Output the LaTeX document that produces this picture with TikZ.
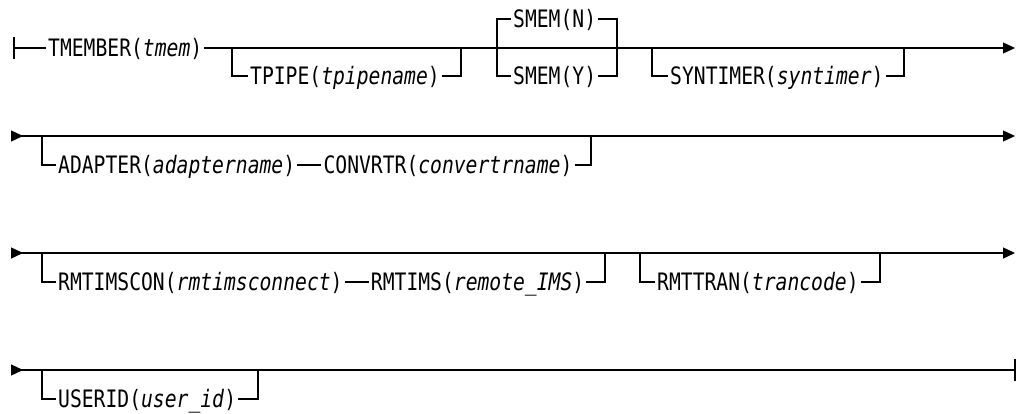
\documentclass[tikz,border=0pt]{standalone}
\usepackage{fontspec}
\setmonofont{DejaVu Sans Mono}[FakeStretch=0.82]
\usetikzlibrary{arrows.meta,positioning}

\begin{document}
\begin{tikzpicture}[
    x=1pt, y=-1pt,
    kw/.style={anchor=west, inner xsep=2pt, inner ysep=0pt,
               text height=17.4pt, text depth=0pt,
               font=\ttfamily\fontsize{24}{26}\selectfont},
    rail/.style={line width=1.3pt},
    rowline/.style={rail, {Triangle[reversed, length=12pt, width=11pt]}-{Triangle[length=12pt, width=11pt]}},
    lastline/.style={rail, {Triangle[reversed, length=12pt, width=11pt]}-},
    node distance=24pt
]
\useasboundingbox (0,0) rectangle (1017,414);

% ================= ROW 1 =================
\coordinate (Start1) at (14, 48);
\coordinate (End1) at (1015, 48);
\node[kw] (Tmember) at (46, 48) {TMEMBER(\textit{tmem})};

% optional TPIPE
\coordinate (TpL) at (232, 48);
\coordinate (TpR) at (461, 48);
\node[kw] (Tpipe) at (248, 76) {TPIPE(\textit{tpipename})};

% SMEM choice
\coordinate (SmL) at (497, 48);
\coordinate (SmR) at (617, 48);
\node[kw] (SmemN) at (511, 19) {SMEM(N)};
\node[kw] (SmemY) at (511, 76) {SMEM(Y)};

% optional SYNTIMER
\coordinate (SyL) at (652, 48);
\coordinate (SyR) at (904, 48);
\node[kw] (Syntimer) at (668, 76) {SYNTIMER(\textit{syntimer})};

\draw[rail] ([yshift=-11pt]Start1) -- ([yshift=11pt]Start1);
\draw[rail] (Start1) -- (Tmember);
\draw[rail, -{Triangle[length=12pt, width=11pt]}] (Tmember) -- (End1);
\draw[rail] (TpL) |- (Tpipe.west);
\draw[rail] (Tpipe.east) -| (TpR);
\draw[rail] (SmemN.west) -- (SmemN.west -| SmL) -- (SmemY.west -| SmL) -- (SmemY.west);
\draw[rail] (SmemN.east) -- (SmemN.east -| SmR) -- (SmemY.east -| SmR) -- (SmemY.east);
\draw[rail] (SyL) |- (Syntimer.west);
\draw[rail] (Syntimer.east) -| (SyR);

% ================= ROW 2 =================
\coordinate (Start2) at (11, 136);
\coordinate (End2) at (1015, 136);
\coordinate (AdL) at (42, 136);
\coordinate (AdR) at (591, 136);
\node[kw] (Adapter) at (56, 165) {ADAPTER(\textit{adaptername})};
\node[kw, right=of Adapter] (Convrtr) {CONVRTR(\textit{convertrname})};

\draw[rowline] (Start2) -- (End2);
\draw[rail] (AdL) |- (Adapter.west);
\draw[rail] (Adapter) -- (Convrtr);
\draw[rail] (Convrtr.east) -| (AdR);

% ================= ROW 3 =================
\coordinate (Start3) at (11, 253);
\coordinate (End3) at (1015, 253);
\coordinate (RcL) at (42, 253);
\coordinate (RcR) at (605, 253);
\node[kw] (Rmtimscon) at (56, 282) {RMTIMSCON(\textit{rmtimsconnect})};
\node[kw, right=of Rmtimscon] (Rmtims) {RMTIMS(\textit{remote\_IMS})};
\coordinate (RtL) at (640, 253);
\coordinate (RtR) at (880, 253);
\node[kw] (Rmttran) at (655, 282) {RMTTRAN(\textit{trancode})};

\draw[rowline] (Start3) -- (End3);
\draw[rail] (RcL) |- (Rmtimscon.west);
\draw[rail] (Rmtimscon) -- (Rmtims);
\draw[rail] (Rmtims.east) -| (RcR);
\draw[rail] (RtL) |- (Rmttran.west);
\draw[rail] (Rmttran.east) -| (RtR);

% ================= ROW 4 =================
\coordinate (Start4) at (11, 370);
\coordinate (End4) at (1015, 370);
\coordinate (UsL) at (42, 370);
\coordinate (UsR) at (258, 370);
\node[kw] (Userid) at (56, 399) {USERID(\textit{user\_id})};

\draw[lastline] (Start4) -- (End4);
\draw[rail] ([yshift=-11pt]End4) -- ([yshift=11pt]End4);
\draw[rail] (UsL) |- (Userid.west);
\draw[rail] (Userid.east) -| (UsR);

\end{tikzpicture}
\end{document}
